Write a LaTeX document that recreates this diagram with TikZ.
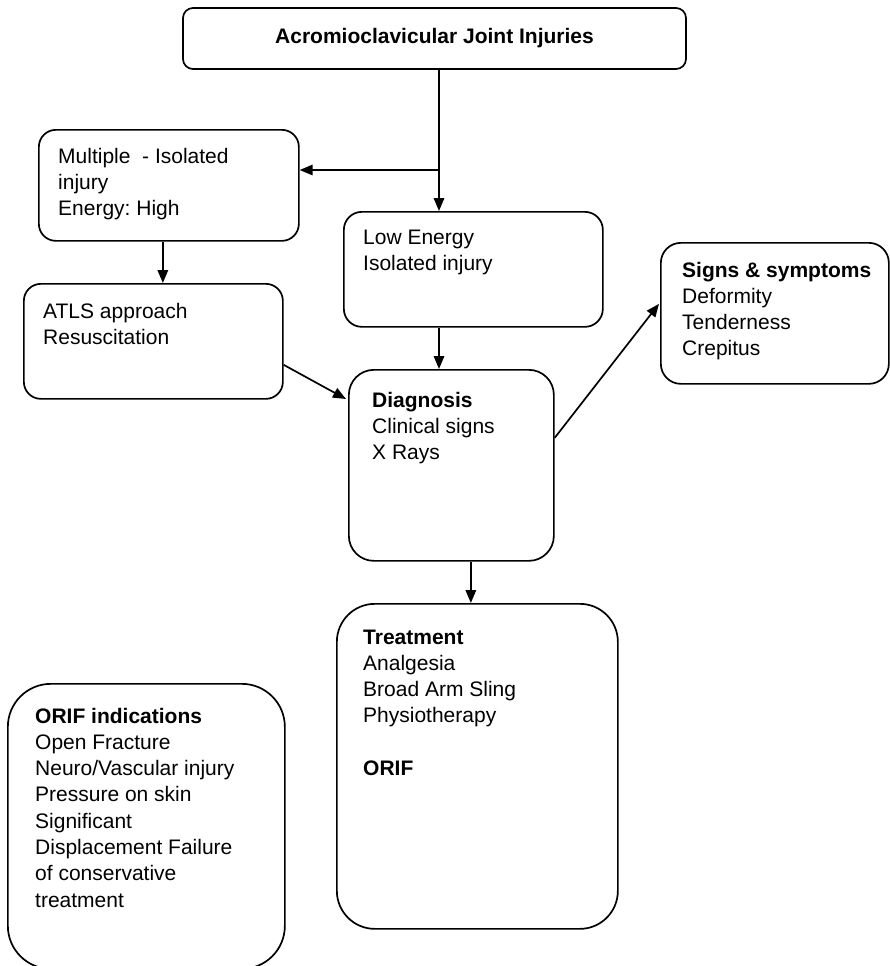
\documentclass[tikz,border=0pt]{standalone}
\usepackage{fontspec}
\setmainfont{Liberation Sans}
\usetikzlibrary{arrows.meta,calc}
\frenchspacing
\begin{document}
\begin{tikzpicture}[x=1pt,y=-1pt,
  every node/.style={font=\fontsize{21}{26.3}\selectfont},
  box/.style={draw=black, line width=1.7pt, rectangle, inner sep=0pt, anchor=north west},
  txt/.style={anchor=base west, inner sep=0pt, text=black},
  conn/.style={draw=black, line width=1.7pt},
  arr/.style={conn, -{Triangle[length=13pt,width=10.5pt]}}
  ]
\useasboundingbox (0,0) rectangle (889,966);

% boxes
\node[box, rounded corners=10pt, minimum width=503pt, minimum height=61pt, anchor=center,
      font=\fontsize{21}{26.3}\selectfont\bfseries] (title) at (434.5,38.5) {Acromioclavicular Joint Injuries};
\node[box, rounded corners=17pt, minimum width=260pt, minimum height=111pt] (multi) at (38,129) {};
\node[box, rounded corners=17pt, minimum width=259pt, minimum height=115pt] (atls) at (23,283) {};
\node[box, rounded corners=18pt, minimum width=259pt, minimum height=115pt] (low) at (343,211) {};
\node[box, rounded corners=25pt, minimum width=205pt, minimum height=191pt] (diag) at (348,369) {};
\node[box, rounded corners=20pt, minimum width=228pt, minimum height=141pt] (signs) at (660,242) {};
\node[box, rounded corners=38pt, minimum width=281pt, minimum height=325pt] (treat) at (336,603) {};
\node[box, rounded corners=43pt, minimum width=277pt, minimum height=285pt] (orif) at (7,683) {};

% texts
\node[txt] (multiT) at (58,163) {\parbox[t]{235pt}{Multiple\ \ - Isolated\\injury\\Energy: High}};
\node[txt] (atlsT) at (43,318) {\parbox[t]{235pt}{ATLS approach\\Resuscitation}};
\node[txt] (lowT) at (363,244) {\parbox[t]{235pt}{Low Energy\\Isolated injury}};
\node[txt] (diagT) at (372,407) {\parbox[t]{175pt}{\textbf{Diagnosis}\\Clinical signs\\X Rays}};
\node[txt] (signsT) at (682,277) {\parbox[t]{200pt}{\textbf{Signs \& symptoms}\\Deformity\\Tenderness\\Crepitus}};
\node[txt] (treatT) at (363,644) {\parbox[t]{240pt}{\textbf{Treatment}\\Analgesia\\Broad Arm Sling\\Physiotherapy\\\mbox{}\\\textbf{ORIF}}};
\node[txt] (orifT) at (35,723) {\parbox[t]{240pt}{\textbf{ORIF indications}\\Open Fracture\\Neuro/Vascular injury\\Pressure on skin\\Significant\\Displacement Failure\\of conservative\\treatment}};

% connectors
\coordinate (split) at (439,170);
\draw[conn] (split |- title.south) -- (split);
\draw[arr] (split) -- (split |- low.north);
\draw[arr] (split) -- (split -| multi.east);
\draw[arr] ([xshift=-6pt]multi.south) -- ([xshift=-6pt]multi.south |- atls.north);
\draw[arr] (split |- low.south) -- (split |- diag.north);
\draw[arr] ([yshift=-23.5pt]atls.east) -- ([xshift=-2pt,yshift=-30pt]diag.north west);
\draw[arr] ([yshift=27.5pt]diag.east) -- ([xshift=-1pt,yshift=9.5pt]signs.west);
\draw[arr] ([xshift=19.5pt]diag.south) -- ([xshift=19.5pt]diag.south |- treat.north);
\end{tikzpicture}
\end{document}
